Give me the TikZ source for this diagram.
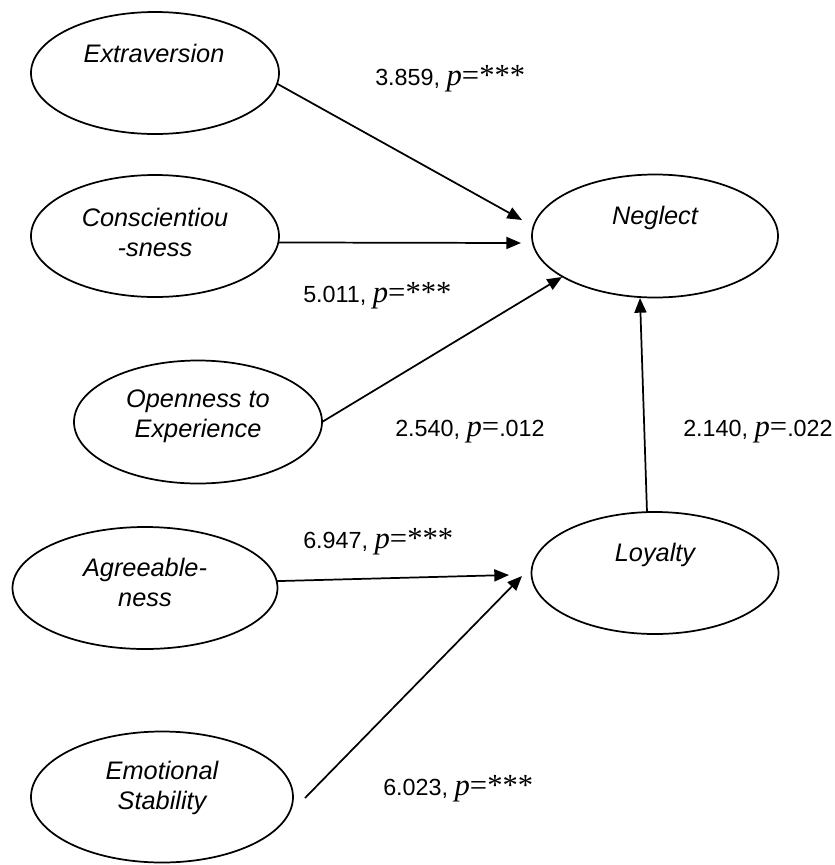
\documentclass[tikz,border=0pt]{standalone}
\usepackage{fontspec}
\setmainfont{Liberation Sans}
\newfontfamily\tmr{Liberation Serif}
\usetikzlibrary{shapes.geometric,arrows.meta,calc}
\newcommand{\lbl}[2]{{\fontsize{17.5}{20}\selectfont #1}{\tmr\fontsize{23}{26}\selectfont\itshape p}{\tmr\fontsize{23}{26}\selectfont =#2}}
\newcommand{\lblv}[2]{{\fontsize{17.5}{20}\selectfont #1}{\tmr\fontsize{23}{26}\selectfont\itshape p}{\tmr\fontsize{23}{26}\selectfont =}{\fontsize{17.5}{20}\selectfont #2}}
\begin{document}
\begin{tikzpicture}[x=0.75pt,y=-0.75pt,
  ell/.style 2 args={ellipse,draw,line width=1.3pt,inner sep=0pt,outer sep=0pt,minimum width=#1*0.75pt,minimum height=#2*0.75pt},
  etxt/.style={font=\fontsize{19}{22.5}\selectfont\itshape,align=center,inner sep=0pt},
  lab/.style={anchor=base west,inner sep=0pt},
  arr/.style={line width=1.3pt,-{Triangle[length=11pt,width=9pt]}}]
\useasboundingbox (0,0) rectangle (835,865);
% ellipses
\node[ell={248}{122}] (ext) at (155,73) {};
\node[ell={248}{122}] (con) at (155,236) {};
\node[ell={246}{123}] (neg) at (655,236) {};
\node[ell={248}{123}] (opn) at (198,422) {};
\node[ell={265}{122}] (agr) at (145,588) {};
\node[ell={262}{131}] (emo) at (162,797) {};
\node[ell={247}{122}] (loy) at (655,573) {};
% texts
\node[etxt] (extt) at (154,53) {Extraversion};
\node[etxt] (cont) at (155,232) {Conscientiou\\-sness};
\node[etxt] (negt) at (655,218) {Neglect};
\node[etxt] (opnt) at (198,416) {Openness to\\Experience};
\node[etxt] (agrt) at (145,582) {Agreeable-\\ness};
\node[etxt] (emot) at (162,788) {Emotional\\Stability};
\node[etxt] (loyt) at (655,555) {Loyalty};
% arrow tips
\coordinate (t1) at (522,220);
\coordinate (t2) at (521,243);
\coordinate (t3) at (562,277);
\coordinate (t4) at (640,298);
\coordinate (t5) at (509,575);
\coordinate (t6) at (522,576);
\coordinate (s6) at (305,798);
\coordinate (s4) at (647,512);
% connectors
\draw[arr] (ext.-5) -- (t1);
\draw[arr] (con.-3) -- (t2);
\draw[arr] (opn.east) -- (t3);
\draw[arr] (s4) -- (t4);
\draw[arr] (agr.3) -- (t5);
\draw[arr] (s6) -- (t6);
% labels
\node[lab] (l1) at (375,85) {\lbl{3.859, }{***}};
\node[lab] (l2) at (303,302) {\lbl{5.011, }{***}};
\node[lab] (l3) at (395,436) {\lblv{2.540, }{.012}};
\node[lab] (l4) at (683,436) {\lblv{2.140, }{.022}};
\node[lab] (l5) at (303,548) {\lbl{6.947, }{***}};
\node[lab] (l6) at (383,795) {\lbl{6.023, }{***}};
\end{tikzpicture}
\end{document}
